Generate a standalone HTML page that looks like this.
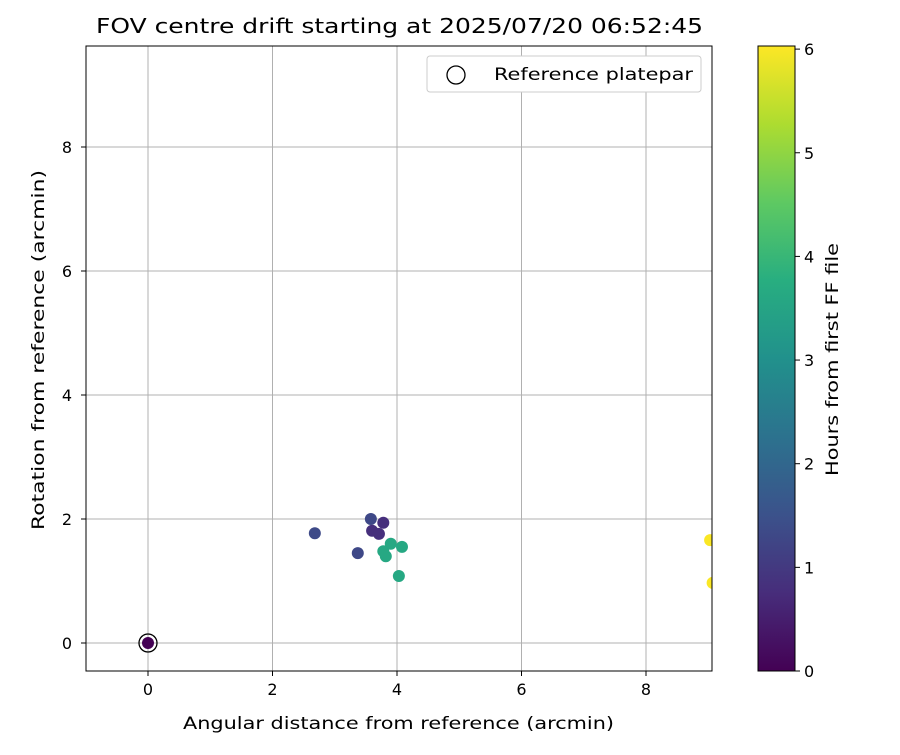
<!DOCTYPE html>
<html><head><meta charset="utf-8"><style>
body{margin:0;background:#fff}
svg text{font-family:"DejaVu Sans","Liberation Sans",sans-serif;fill:#000}
</style></head><body>
<svg id="c" width="900" height="750" xmlns="http://www.w3.org/2000/svg">
<defs>
<clipPath id="pc"><rect x="86" y="46" width="626" height="625"/></clipPath>
<linearGradient id="vir" x1="0" y1="1" x2="0" y2="0">
<stop offset="0" stop-color="#440154"/><stop offset="0.125" stop-color="#472d7b"/><stop offset="0.25" stop-color="#3b528b"/><stop offset="0.375" stop-color="#2c728e"/><stop offset="0.5" stop-color="#21918c"/><stop offset="0.625" stop-color="#28ae80"/><stop offset="0.75" stop-color="#5ec962"/><stop offset="0.875" stop-color="#addc30"/><stop offset="1" stop-color="#fde725"/>
</linearGradient>
</defs>
<text x="96" y="33" font-size="20" textLength="607" lengthAdjust="spacingAndGlyphs">FOV centre drift starting at 2025/07/20 06:52:45</text>
<g id="grid"></g>
<g id="pts" clip-path="url(#pc)"></g>
<rect x="86" y="46" width="626" height="625" fill="none" stroke="#000" stroke-width="1"/>
<g id="ticks"></g>
<text x="183" y="729" font-size="17" textLength="431" lengthAdjust="spacingAndGlyphs">Angular distance from reference (arcmin)</text>
<text transform="translate(44,530) rotate(-90)" font-size="17" textLength="360" lengthAdjust="spacingAndGlyphs">Rotation from reference (arcmin)</text>
<g>
<rect x="427" y="56" width="274" height="36" rx="3" fill="#fff" stroke="#ccc"/>
<circle cx="456" cy="75" r="9" fill="none" stroke="#000" stroke-width="1.3"/>
<text x="494" y="80" font-size="17" textLength="199" lengthAdjust="spacingAndGlyphs">Reference platepar</text>
</g>
<rect x="758" y="46" width="37" height="625" fill="url(#vir)" stroke="#000" stroke-width="1"/>
<g id="cbt"></g>
<text transform="translate(838,476) rotate(-90)" font-size="17" textLength="233" lengthAdjust="spacingAndGlyphs">Hours from first FF file</text>
</svg>
<script>
const xs=[2.68,3.37,3.58,3.78,3.60,3.71,3.78,3.82,3.90,4.08,4.03,9.03,9.07];
const ys=[1.77,1.45,2.00,1.94,1.81,1.76,1.48,1.40,1.60,1.55,1.08,1.66,0.97];
const hours=[1.35,1.3,1.3,0.8,0.8,0.8,3.6,3.6,3.6,3.6,3.6,6.0,6.0];
const xTicks=[0,2,4,6,8];
const yTicks=[0,2,4,6,8];
const cTicks=[0,1,2,3,4,5,6];
const X=v=>148+(v)*62.25, Y=v=>643-v*62, C=v=>671-v*(625/6.03);
const stops=["#440154","#472d7b","#3b528b","#2c728e","#21918c","#28ae80","#5ec962","#addc30","#fde725"];
function hx(h){return [1,3,5].map(i=>parseInt(h.substr(i,2),16));}
function vir(t){t=Math.max(0,Math.min(1,t));const p=t*8,i=Math.min(7,Math.floor(p)),f=p-i;const a=hx(stops[i]),b=hx(stops[i+1]);return "rgb("+a.map((v,k)=>Math.round(v+(b[k]-v)*f)).join(",")+")";}
const NS="http://www.w3.org/2000/svg";
function mk(t,at,par){const e=document.createElementNS(NS,t);for(const k in at)e.setAttribute(k,at[k]);document.getElementById(par).appendChild(e);return e;}
xTicks.forEach(v=>{
 const g=mk("line",{x1:X(v),x2:X(v),y1:46,y2:671,stroke:"#b0b0b0","stroke-width":1},"grid");
 
 
 const t=mk("line",{x1:X(v),x2:X(v),y1:671,y2:676,stroke:"#000"},"ticks");
 
 
 const l=mk("text",{x:X(v),y:695,"font-size":16,"text-anchor":"middle"},"ticks");l.textContent=v;
 
 
});
yTicks.forEach(v=>{
 const g=mk("line",{x1:86,x2:712,y1:Y(v),y2:Y(v),stroke:"#b0b0b0","stroke-width":1},"grid");
 
 
 const t=mk("line",{x1:81,x2:86,y1:Y(v),y2:Y(v),stroke:"#000"},"ticks");
 
 
 const l=mk("text",{x:72,y:Y(v)+6,"font-size":16,"text-anchor":"end"},"ticks");l.textContent=v;
 
 
});
cTicks.forEach(v=>{
 const t=mk("line",{x1:795,x2:800,y1:C(v),y2:C(v),stroke:"#000"},"cbt");
 
 
 const l=mk("text",{x:804,y:C(v)+6,"font-size":16},"cbt");l.textContent=v;
 
 
});
const r=mk("circle",{cx:X(0),cy:Y(0),r:9,fill:"none",stroke:"#000","stroke-width":1.3},"pts");


const r0=mk("circle",{cx:X(0),cy:Y(0),r:6,fill:vir(0)},"pts");


xs.forEach((v,i)=>{
 const c=mk("circle",{cx:X(v),cy:Y(ys[i]),r:6,fill:vir(hours[i]/6.03)},"pts");
 
 
});
</script>
</body></html>
